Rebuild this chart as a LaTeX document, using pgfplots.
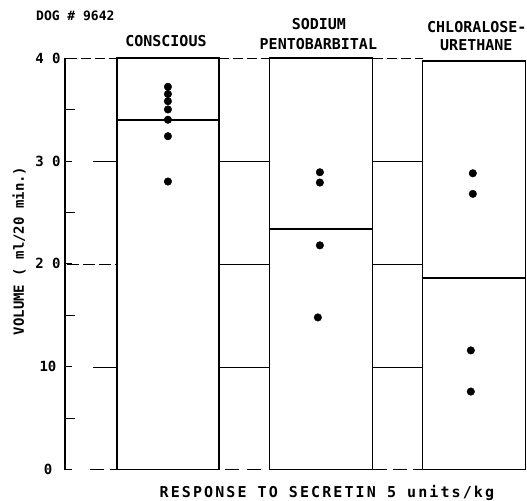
\documentclass[border=0pt]{standalone}
\usepackage{pgfplots}
\pgfplotsset{compat=1.18}
\usepackage{fontspec}
\setmainfont{DejaVu Sans Mono}
\newfontfamily\spaced{DejaVu Sans Mono}[LetterSpace=14]
\newcommand{\lab}{\fontsize{15bp}{19bp}\selectfont\bfseries}

\begin{document}
\begin{tikzpicture}
\begin{axis}[
  scale only axis,
  width=462bp, height=412bp,
  xmin=65, xmax=527,
  ymin=0, ymax=40,
  clip=false,
  axis x line=none,
  axis y line*=left,
  y axis line style={-, line width=1.1pt},
  xtick=\empty,
  ytick={0,10,20,30,40},
  minor ytick={5,15,25,35},
  tick align=inside,
  major tick length=7bp,
  minor tick length=10bp,
  tick style={line width=0.8pt, black},
  yticklabels={{\mbox{0}},{\mbox{10}},{\mbox{2 0}},{\mbox{3 0}},{\mbox{4 0}}},
  yticklabel style={font=\fontsize{14bp}{16bp}\selectfont\bfseries, anchor=center, xshift=-17bp},
]
% gridline pieces in the gaps between the boxes
\addplot[black, line width=0.7pt, dash pattern=on 10bp off 4bp] coordinates {(67,40) (117,40)};
\addplot[black, line width=0.7pt, dash pattern=on 10bp off 4bp] coordinates {(219,40) (270,40)};
\addplot[black, line width=0.7pt, dash pattern=on 10bp off 4bp] coordinates {(373,40) (423,40)};
\addplot[black, line width=0.7pt] coordinates {(93,30) (117,30)};
\addplot[black, line width=0.7pt] coordinates {(219,30) (270,30)};
\addplot[black, line width=0.7pt] coordinates {(373,30) (423,30)};
\addplot[black, line width=0.7pt, dash pattern=on 12bp off 4bp] coordinates {(67,20) (117,20)};
\addplot[black, line width=0.7pt] coordinates {(219,20) (270,20)};
\addplot[black, line width=0.7pt] coordinates {(373,20) (423,20)};
\addplot[black, line width=0.7pt] coordinates {(93,10) (117,10)};
\addplot[black, line width=0.7pt] coordinates {(219,10) (270,10)};
\addplot[black, line width=0.7pt] coordinates {(373,10) (423,10)};
\addplot[black, line width=0.7pt, dash pattern=on 14bp off 6bp] coordinates {(90,0) (117,0)};
\addplot[black, line width=0.7pt, dash pattern=on 14bp off 8bp] coordinates {(225,0) (270,0)};
\addplot[black, line width=0.7pt, dash pattern=on 14bp off 6bp] coordinates {(373,0) (423,0)};
% boxes
\addplot[black, line width=1.2pt] coordinates {(117,0) (219,0) (219,40) (117,40) (117,0)};
\addplot[black, line width=1.2pt] coordinates {(270,0) (373,0) (373,40) (270,40) (270,0)};
\addplot[black, line width=1.2pt] coordinates {(423,0) (526,0) (526,39.7) (423,39.7) (423,0)};
% means
\addplot[black, line width=2.4pt] coordinates {(117,34.0) (219,34.0)};
\addplot[black, line width=2.4pt] coordinates {(270,23.4) (373,23.4)};
\addplot[black, line width=2.4pt] coordinates {(423,18.6) (526,18.6)};
% individual responses
\addplot[only marks, mark=*, mark size=3.8pt, black] coordinates {
  (168,37.2) (168,36.5) (168,35.8) (168,35.0) (168,34.0) (168,32.4) (168,28.0)};
\addplot[only marks, mark=*, mark size=3.8pt, black] coordinates {
  (320,28.9) (320,27.9) (320,21.8) (318,14.8)};
\addplot[only marks, mark=*, mark size=3.8pt, black] coordinates {
  (473,28.8) (473,26.8) (471,11.6) (471,7.6)};
% texts
\node[anchor=base west, inner sep=0pt, font=\fontsize{13bp}{15bp}\selectfont\bfseries] at (axis cs:36,43.6) {DOG \# 9642};
\node[anchor=base, inner sep=0pt, font=\lab] at (axis cs:166,41.07) {CONSCIOUS};
\node[anchor=base, inner sep=0pt, font=\lab] at (axis cs:319,42.72) {SODIUM};
\node[anchor=base, inner sep=0pt, font=\lab] at (axis cs:318.5,40.87) {PENTOBARBITAL};
\node[anchor=base, inner sep=0pt, font=\lab] at (axis cs:477,42.43) {CHLORALOSE-};
\node[anchor=base, inner sep=0pt, font=\lab] at (axis cs:476.5,40.68) {URETHANE};
\node[anchor=base, inner sep=0pt, font=\lab\spaced\bfseries] at (axis cs:327,-2.72) {RESPONSE TO SECRETIN 5 units/kg};
\node[rotate=90, inner sep=0pt, font=\fontsize{14bp}{16bp}\selectfont\bfseries] at (axis cs:19,21.26) {VOLUME ( ml/20 min.)};
\coordinate (bl) at (axis cs:0,-2.816);
\coordinate (tr) at (axis cs:527,45.63);
\end{axis}
\useasboundingbox (bl) rectangle (tr);
\end{tikzpicture}
\end{document}
